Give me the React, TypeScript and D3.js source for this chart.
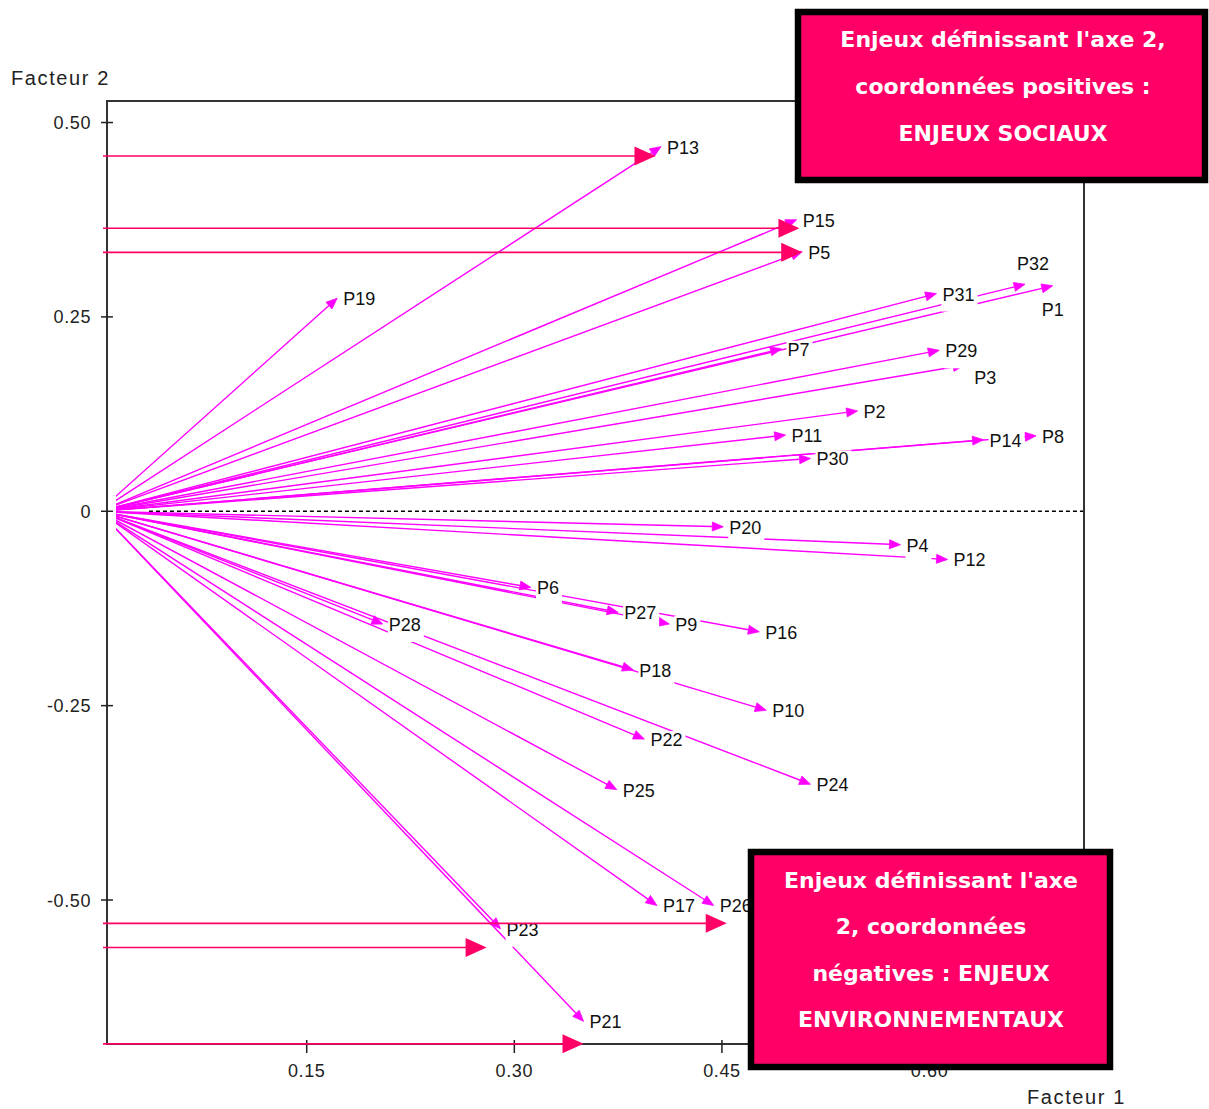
import React from "react";
import * as d3 from "d3";

// ---- data ----
const issues = ["P13","P15","P5","P19","P31","P32","P1","P7","P29","P3","P2","P11","P30","P14","P8","P20","P4","P12","P6","P27","P9","P16","P28","P18","P10","P22","P24","P25","P17","P26","P23","P21"];
const factor1 = [0.406,0.504,0.508,0.172,0.605,0.669,0.689,0.493,0.607,0.625,0.548,0.496,0.514,0.639,0.677,0.451,0.579,0.613,0.312,0.375,0.412,0.477,0.205,0.386,0.482,0.394,0.514,0.374,0.403,0.444,0.290,0.350];
const factor2 = [0.469,0.375,0.334,0.274,0.280,0.292,0.290,0.209,0.207,0.188,0.129,0.098,0.068,0.092,0.097,-0.020,-0.043,-0.062,-0.098,-0.130,-0.145,-0.155,-0.145,-0.204,-0.256,-0.293,-0.351,-0.358,-0.507,-0.507,-0.537,-0.656];

const xTicks = [0.15, 0.30, 0.45, 0.60];
const xTickLabels = ["0.15", "0.30", "0.45", "0.60"];
const yTicks = [0.5, 0.25, 0, -0.25, -0.5];
const yTickLabels = ["0.50", "0.25", "0", "-0.25", "-0.50"];

// annotation arrows (pink): level on factor 2 and end on factor 1
const annoY = [0.457, 0.364, 0.333, -0.530, -0.561, -0.685];
const annoXEnd = [0.402, 0.506, 0.508, 0.4535, 0.280, 0.350];
const annoXStart = 0.0028;

const boxTopLines = ["Enjeux définissant l'axe 2,", "coordonnées positives :", "ENJEUX SOCIAUX"];
const boxBottomLines = ["Enjeux définissant l'axe", "2, coordonnées", "négatives : ENJEUX", "ENVIRONNEMENTAUX"];

const xAxisTitle = "Facteur 1";
const yAxisTitle = "Facteur 2";

// label placement overrides (dx, dy from arrow tip)
const labelOffset: Record<string, [number, number]> = {
  P32: [-8, -14],
  P1: [-11, 30],
  P3: [10, 19],
};

const MAGENTA = "#ff00ff";
const PINK = "#ff0066";
const FONT = "'Liberation Sans', Arial, sans-serif";

export default function App() {
  const W = 1209, H = 1109;
  const x = d3.scaleLinear().domain([0.0057, 0.7116]).range([107, 1084]);
  const y = d3.scaleLinear().domain([0.5277, -0.6852]).range([101, 1044]);
  const [x0, x1] = x.range();
  const [y0, y1] = y.range();

  const ox = x(0), oy = y(0);
  const clipLeft = x(0.0122);

  const arrows = issues.map((name, i) => {
    const tx = x(factor1[i]);
    const ty = y(factor2[i]);
    const ang = Math.atan2(ty - oy, tx - ox);
    const L = 11, hw = 4.5;
    const bx = tx - L * Math.cos(ang), by = ty - L * Math.sin(ang);
    const px = -Math.sin(ang) * hw, py = Math.cos(ang) * hw;
    const head = `M${tx},${ty}L${bx + px},${by + py}L${bx - px},${by - py}Z`;
    const off = labelOffset[name] || [6, 7];
    const lx = tx + off[0];
    const ly = ty + off[1];
    const w = 12 + 10 * (name.length - 1);
    return { name, tx, ty, bx, by, head, lx, ly, w };
  });

  return (
    <svg width={W} height={H} style={{ position: "absolute", left: 0, top: 0, background: "#fff" }}>
      <defs>
        <clipPath id="vclip">
          <rect x={clipLeft} y={y0} width={x1 - clipLeft} height={y1 - y0} />
        </clipPath>
      </defs>
      <rect x={0} y={0} width={W} height={H} fill="#fff" />

      {/* zero dashed line */}
      <line x1={x(0.036)} x2={x1} y1={oy} y2={oy} stroke="#000" strokeWidth={1.4} strokeDasharray="4,3" />

      {/* frame */}
      <rect x={x0} y={y0} width={x1 - x0} height={y1 - y0} fill="none" stroke="#333" strokeWidth={2} />

      {/* y ticks */}
      {yTicks.map((v, i) => (
        <g key={"yt" + i}>
          <line x1={x0 - 6} x2={x0 + 6} y1={y(v)} y2={y(v)} stroke="#222" strokeWidth={1.5} />
          <text x={91} y={y(v) + 6.5} textAnchor="end" fontFamily={FONT} fontSize={18} letterSpacing={0.6} fill="#222">{yTickLabels[i]}</text>
        </g>
      ))}
      {/* x ticks */}
      {xTicks.map((v, i) => (
        <g key={"xt" + i}>
          <line x1={x(v)} x2={x(v)} y1={y1 - 4} y2={y1 + 9} stroke="#222" strokeWidth={1.5} />
          <text x={x(v)} y={1077} textAnchor="middle" fontFamily={FONT} fontSize={18} letterSpacing={0.6} fill="#222">{xTickLabels[i]}</text>
        </g>
      ))}

      {/* axis titles */}
      <text x={11} y={85} fontFamily={FONT} fontSize={20} letterSpacing={1.6} fill="#222">{yAxisTitle}</text>
      <text x={1027} y={1104} fontFamily={FONT} fontSize={20} letterSpacing={1.6} fill="#222">{xAxisTitle}</text>

      {/* vectors */}
      <g clipPath="url(#vclip)">
        {arrows.map((a) => (
          <line key={"l" + a.name} x1={ox} y1={oy} x2={a.bx} y2={a.by} stroke={MAGENTA} strokeWidth={1.4} />
        ))}
        {arrows.map((a) => (
          <path key={"h" + a.name} d={a.head} fill={MAGENTA} stroke={MAGENTA} strokeWidth={0.8} />
        ))}
      </g>

      {/* labels */}
      {arrows.map((a) => (
        <g key={"t" + a.name}>
          <rect x={a.lx - 1} y={a.ly - 15} width={a.w + 4} height={26} fill="#fff" />
          <text x={a.lx} y={a.ly} fontFamily={FONT} fontSize={18} fill="#111">{a.name}</text>
        </g>
      ))}

      {/* pink annotation arrows */}
      {annoY.map((v, i) => {
        const ty = y(v);
        const tx = x(annoXEnd[i]);
        return (
          <g key={"a" + i}>
            <line x1={x(annoXStart)} x2={tx - 20} y1={ty} y2={ty} stroke={PINK} strokeWidth={1.6} />
            <path d={`M${tx},${ty}L${tx - 21},${ty - 9.5}L${tx - 21},${ty + 9.5}Z`} fill={PINK} />
          </g>
        );
      })}

      {/* text boxes */}
      <g>
        <rect x={798} y={12} width={407} height={168} fill={PINK} stroke="#000" strokeWidth={6.5} />
        {boxTopLines.map((t, i) => (
          <text key={"bt" + i} x={1003} y={47 + i * 47} textAnchor="middle" fontFamily="'DejaVu Sans', Verdana, sans-serif" fontWeight="bold" fontSize={22} fill="#fff">{t}</text>
        ))}
      </g>
      <g>
        <rect x={751} y={852} width={359} height={215} fill={PINK} stroke="#000" strokeWidth={6.5} />
        {boxBottomLines.map((t, i) => (
          <text key={"bb" + i} x={931} y={888 + i * 46.3} textAnchor="middle" fontFamily="'DejaVu Sans', Verdana, sans-serif" fontWeight="bold" fontSize={22} fill="#fff">{t}</text>
        ))}
      </g>
    </svg>
  );
}
